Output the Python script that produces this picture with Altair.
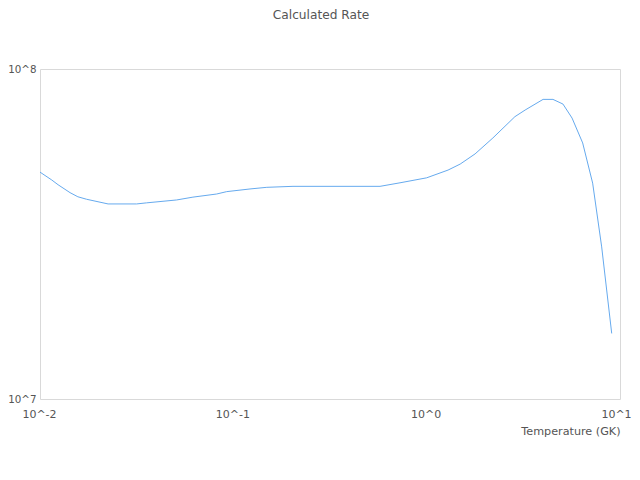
import altair as alt
import pandas as pd

# Temperature (GK) and calculated rate
temperature = [0.0100, 0.0115, 0.0124, 0.0143, 0.0157, 0.0174, 0.0225, 0.0316,
               0.0356, 0.0509, 0.0618, 0.0820, 0.0924, 0.122, 0.149, 0.2035,
               0.574, 0.728, 1.00, 1.29, 1.49, 1.78, 2.20, 2.86, 3.23, 4.00,
               4.50, 5.07, 5.65, 6.41, 7.22, 8.04, 9.06]
rate = [4.87e7, 4.61e7, 4.46e7, 4.22e7, 4.10e7, 4.03e7, 3.90e7, 3.90e7,
        3.93e7, 4.01e7, 4.09e7, 4.18e7, 4.25e7, 4.33e7, 4.38e7, 4.41e7,
        4.41e7, 4.52e7, 4.68e7, 4.94e7, 5.15e7, 5.53e7, 6.18e7, 7.17e7,
        7.51e7, 8.09e7, 8.09e7, 7.83e7, 7.10e7, 5.97e7, 4.51e7, 2.89e7,
        1.58e7]

x_ticks = [0.01, 0.1, 1, 10]
y_ticks = [1e7, 1e8]

df = pd.DataFrame({"T": temperature, "rate": rate})

label_expr = "'10^' + round(log(datum.value) / LN10)"
text_color = "#555555"
font = "DejaVu Sans"

chart = (
    alt.Chart(df)
    .mark_line(color="#66aaee", strokeWidth=1)
    .encode(
        x=alt.X(
            "T:Q",
            scale=alt.Scale(type="log", domain=[0.01, 10], nice=False),
            axis=alt.Axis(
                values=x_ticks,
                labelExpr=label_expr,
                title="Temperature (GK)",
                titleAnchor="end",
                titleAlign="right",
                titlePadding=6,
                titleFontWeight="normal",
                titleFontSize=11.2,
                labelFontSize=11,
                labelPadding=9,
                labelOffset={
                    "condition": {"test": "datum.value > 5", "value": -4},
                    "value": -1,
                },
                ticks=False,
                domain=False,
                grid=False,
                labelFlush=False,
            ),
        ),
        y=alt.Y(
            "rate:Q",
            scale=alt.Scale(type="log", domain=[1e7, 1e8], nice=False),
            axis=alt.Axis(
                values=y_ticks,
                labelExpr=label_expr,
                title=None,
                labelFontSize=10.3,
                labelPadding=4,
                ticks=False,
                domain=False,
                grid=False,
            ),
        ),
    )
    .properties(
        width=580,
        height=330,
        title=alt.TitleParams(
            "Calculated Rate",
            fontSize=12.2,
            fontWeight="normal",
            color=text_color,
            font=font,
            offset=43,
            dx=-9,
        ),
        autosize=alt.AutoSizeParams(type="none"),
        padding={"left": 32, "top": 61, "right": 12, "bottom": 55},
    )
    .configure_view(stroke="#d9d9d9", strokeWidth=1)
    .configure_axis(
        labelColor=text_color,
        titleColor=text_color,
        labelFont=font,
        titleFont=font,
    )
)

chart.save("out.html", embed_options={"renderer": "svg", "actions": False})
